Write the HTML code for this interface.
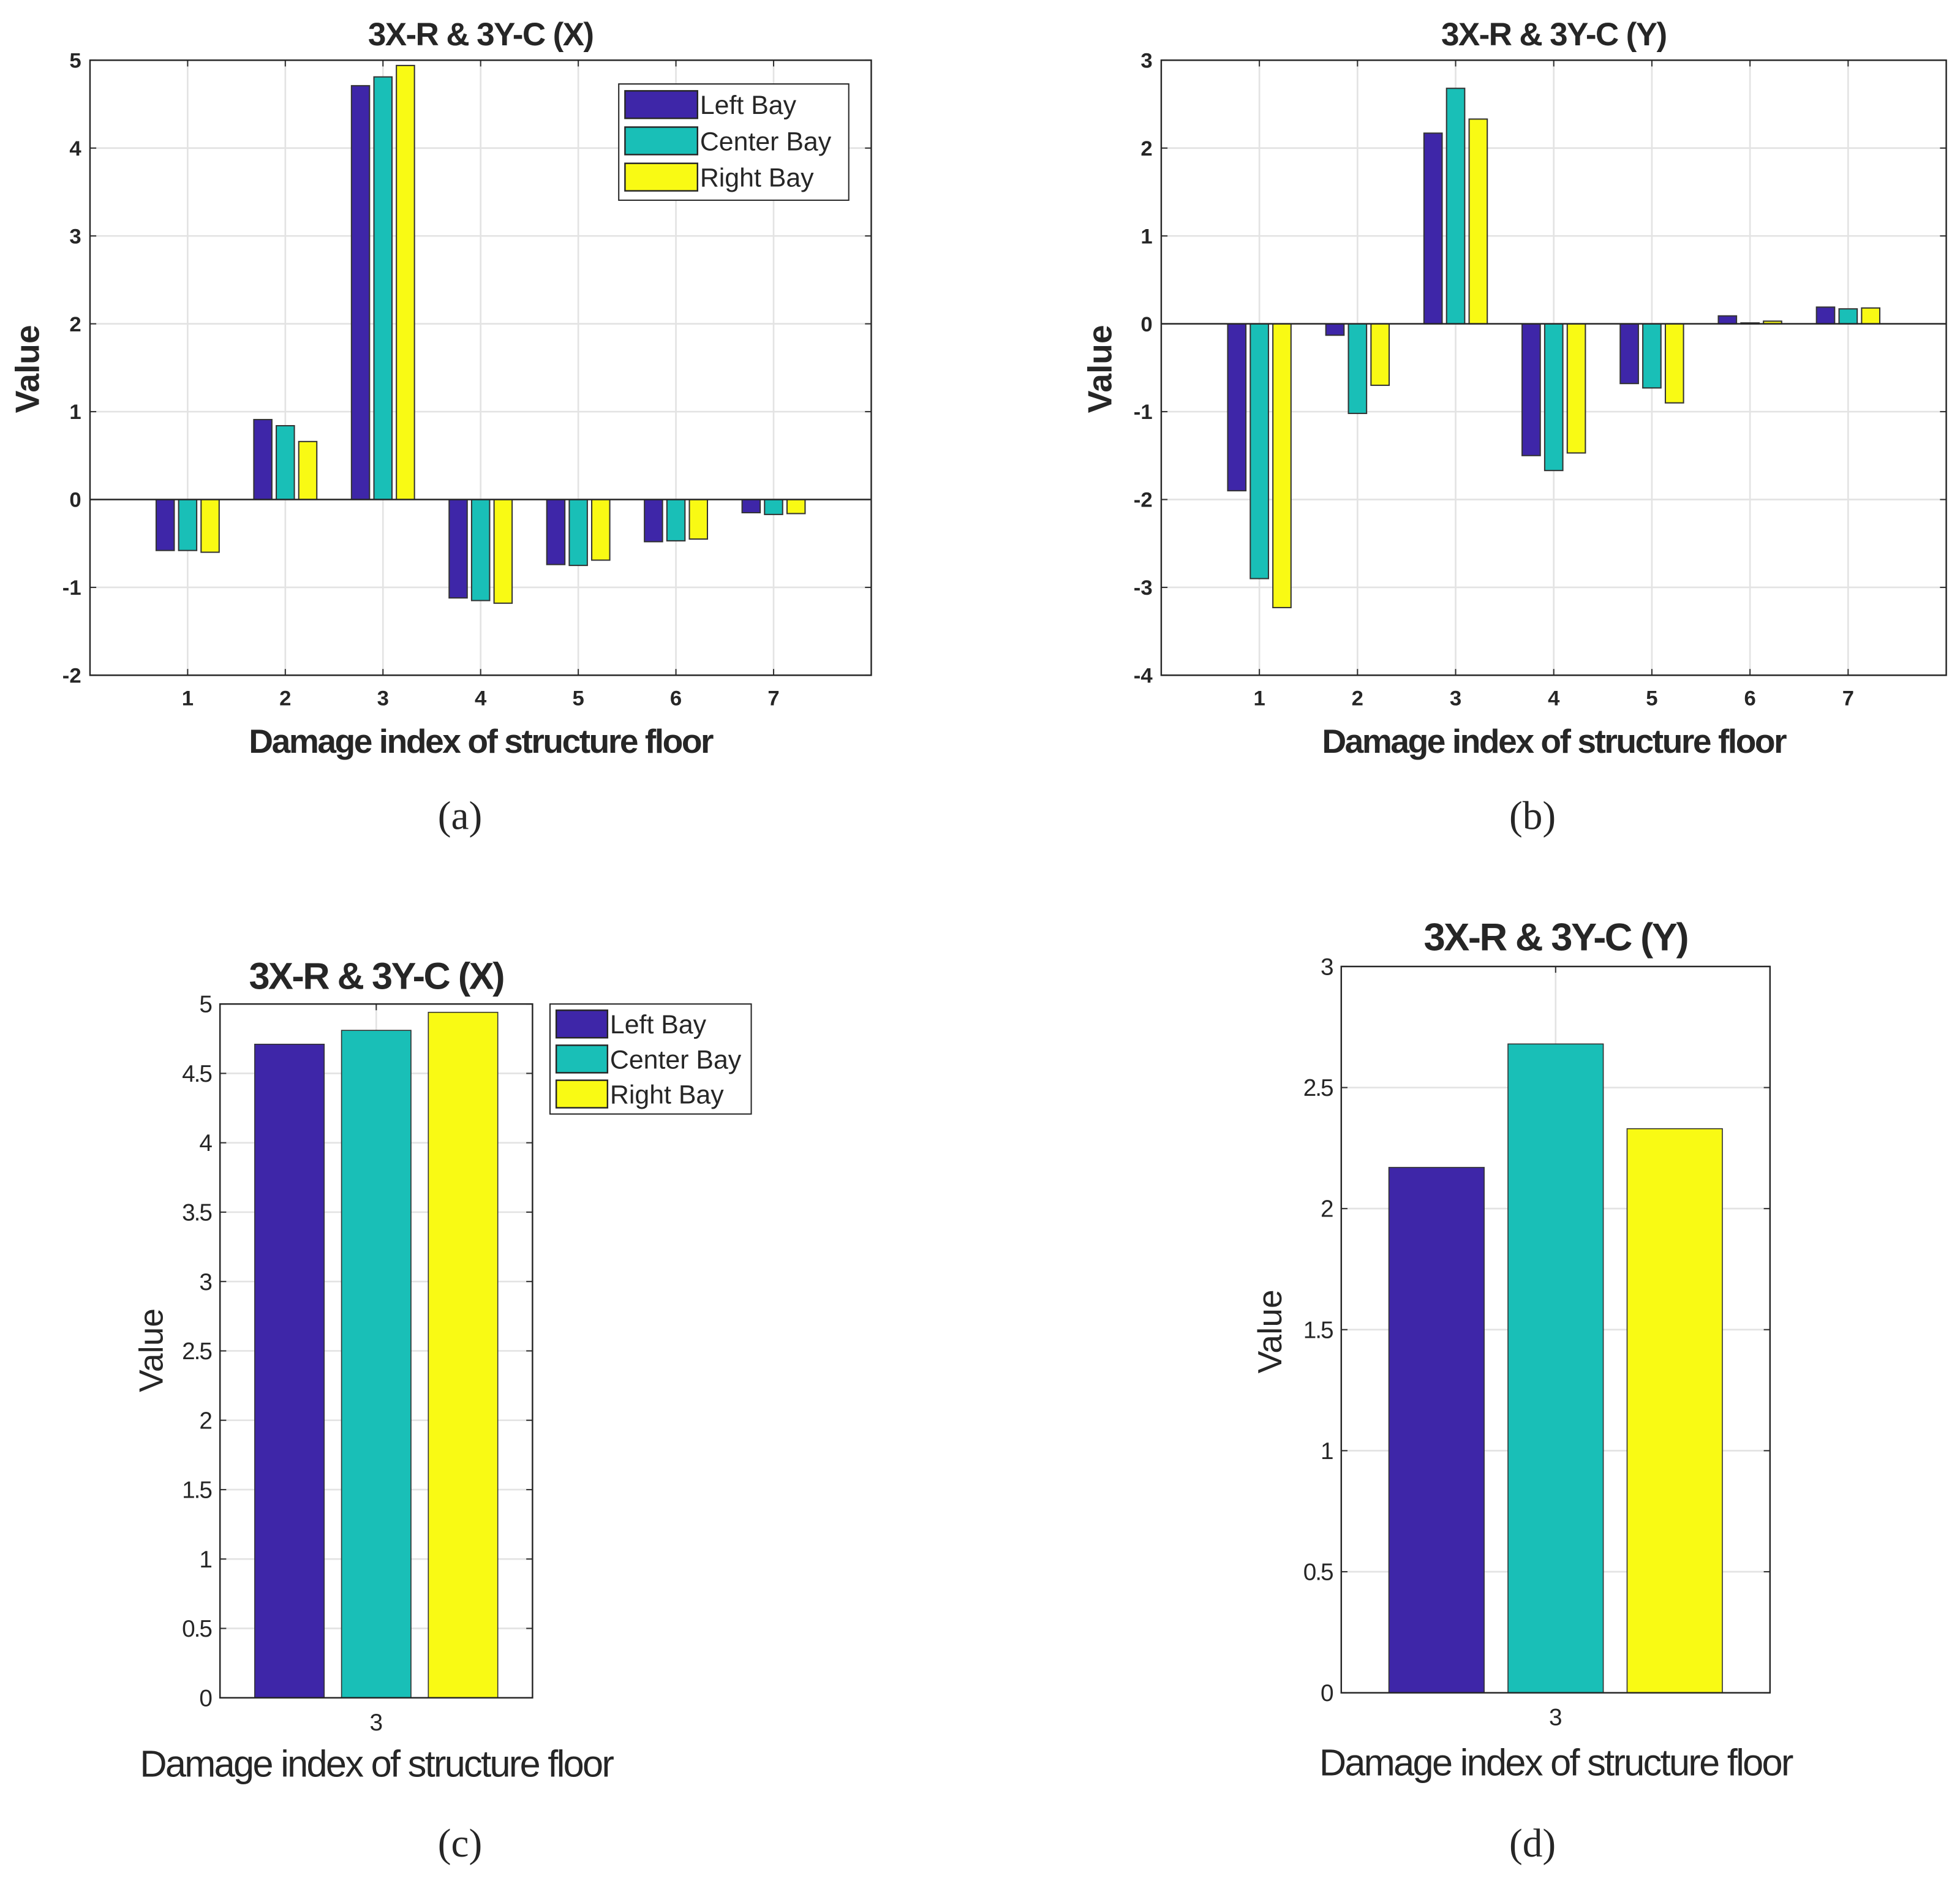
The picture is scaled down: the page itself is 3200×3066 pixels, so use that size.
<!DOCTYPE html>
<html><head><meta charset="utf-8"><style>
html,body{margin:0;padding:0;background:#fff}
svg{display:block}
text{font-family:"Liberation Sans",Arial,sans-serif;fill:#262626}
</style></head><body>
<svg id="fig" width="3200" height="3066" viewBox="0 0 1568 1502" xmlns="http://www.w3.org/2000/svg"></svg>
<script>
const seriesNames = ["Left Bay","Center Bay","Right Bay"];
const seriesColors = ["#3e26a8","#19bfb7","#f9fa14"];
const catsAB = [1,2,3,4,5,6,7];
const aLeft = [-0.58,0.91,4.71,-1.12,-0.74,-0.48,-0.15];
const aCenter = [-0.58,0.84,4.81,-1.15,-0.75,-0.47,-0.17];
const aRight = [-0.60,0.66,4.94,-1.18,-0.69,-0.45,-0.16];
const bLeft = [-1.90,-0.13,2.17,-1.50,-0.68,0.09,0.19];
const bCenter = [-2.90,-1.02,2.68,-1.67,-0.73,0.01,0.17];
const bRight = [-3.23,-0.70,2.33,-1.47,-0.90,0.03,0.18];
const ticksA = [-2,-1,0,1,2,3,4,5];
const ticksB = [-4,-3,-2,-1,0,1,2,3];
const catsCD = [3];
const cLeft = [4.71], cCenter = [4.81], cRight = [4.94];
const dLeft = [2.17], dCenter = [2.68], dRight = [2.33];
const ticksC = [0,0.5,1,1.5,2,2.5,3,3.5,4,4.5,5];
const ticksD = [0,0.5,1,1.5,2,2.5,3];

const NS="http://www.w3.org/2000/svg";
const svg=document.getElementById('fig');
function mk(tag,attrs,parent){const e=document.createElementNS(NS,tag);for(const k in attrs)e.setAttribute(k,attrs[k]);(parent||svg).appendChild(e);return e;}
function txt(s,attrs,parent){const e=mk('text',attrs,parent);e.textContent=s;return e;}

function chart(cfg){
  const g=mk('g',{});
  
  
  const {L,R,T,B,ymin,ymax,xmin,xmax}=cfg;
  const ys=v=>B-(v-ymin)/(ymax-ymin)*(B-T);
  const xs=v=>L+(v-xmin)/(xmax-xmin)*(R-L);
  mk('rect',{x:L,y:T,width:R-L,height:B-T,fill:'#fff'},g);
  cfg.yt.forEach(t=>{const y=ys(t);
    const gl=mk('line',{x1:L,x2:R,y1:y,y2:y,stroke:'#e3e3e3','stroke-width':1.3},g);
    
    
    mk('line',{x1:L,x2:L+5,y1:y,y2:y,stroke:'#333'},g);
    mk('line',{x1:R-5,x2:R,y1:y,y2:y,stroke:'#333'},g);
    const tl=txt(String(t),{x:L-7,y:y+cfg.tfs*0.35,'text-anchor':'end','font-size':cfg.tfs,'font-weight':cfg.tw,'letter-spacing':cfg.tls},g);
    
    
  });
  cfg.cats.forEach(c=>{const x=xs(c);
    mk('line',{x1:x,x2:x,y1:T,y2:B,stroke:'#e3e3e3','stroke-width':1.3},g);
    mk('line',{x1:x,x2:x,y1:B,y2:B-5,stroke:'#333'},g);
    mk('line',{x1:x,x2:x,y1:T,y2:T+5,stroke:'#333'},g);
    const tl=txt(String(c),{x:x,y:B+cfg.tfs+7,'text-anchor':'middle','font-size':cfg.tfs,'font-weight':cfg.tw},g);
    
    
  });
  const unit=(R-L)/(xmax-xmin);
  cfg.series.forEach((arr,si)=>{
    arr.forEach((v,i)=>{
      const cx=xs(cfg.cats[i])+(si-1)*cfg.off*unit;
      const w=cfg.bw*unit;
      const y0=ys(0), y1=ys(v);
      const r=mk('rect',{x:cx-w/2,y:Math.min(y0,y1),width:w,height:Math.max(Math.abs(y1-y0),0.8),fill:seriesColors[si],stroke:'#333','stroke-width':cfg.sw},g);
      
      
    });
  });
  if(ymin<0){mk('line',{x1:L,x2:R,y1:ys(0),y2:ys(0),stroke:'#262626','stroke-width':1.2},g);}
  mk('rect',{x:L,y:T,width:R-L,height:B-T,fill:'none',stroke:'#262626','stroke-width':1.2},g);
  const ti=txt(cfg.title,{x:(L+R)/2,y:cfg.titleY,'text-anchor':'middle','font-size':cfg.titleFs,'font-weight':'bold',fill:'#000','letter-spacing':cfg.titleLs},g);
  
  
  const xl=txt('Damage index of structure floor',{x:(L+R)/2,y:cfg.xlY,'text-anchor':'middle','font-size':cfg.xlFs,'font-weight':cfg.xlW,'letter-spacing':cfg.xlLs},g);
  
  
  const yl=txt('Value',{x:0,y:0,'text-anchor':'middle','font-size':cfg.ylFs,'font-weight':cfg.xlW,transform:`translate(${cfg.ylX},${cfg.ylY}) rotate(-90)`},g);
  
  
  const cap=txt(cfg.caption,{x:cfg.capX,y:cfg.capY,'text-anchor':'middle','font-size':32,style:'font-family:"Liberation Serif",serif',fill:'#000'});
  
  
  return g;
}
function legend(x,y,w,h,sw,swh,rowH,fs,name){
  const g=mk('g',{});
  
  
  mk('rect',{x:x,y:y,width:w,height:h,fill:'#fff',stroke:'#262626','stroke-width':1},g);
  seriesNames.forEach((n,i)=>{
    const cy=y+rowH*(i+0.5)+2;
    const s=mk('rect',{x:x+5,y:cy-swh/2,width:sw,height:swh,fill:seriesColors[i],stroke:'#262626','stroke-width':1.2},g);
    
    
    const t=txt(n,{x:x+sw+7,y:cy+fs*0.36,'font-size':fs},g);
    
    
  });
}
chart({name:'chart-a',L:72,R:697,T:48,B:540,ymin:-2,ymax:5,xmin:0,xmax:8,cats:catsAB,series:[aLeft,aCenter,aRight],yt:ticksA,
  tfs:17,tw:'bold',tls:0,off:0.23,bw:0.185,sw:1,title:'3X-R & 3Y-C (X)',titleY:36,titleFs:26,titleLs:-0.8,xlY:602,xlFs:27,xlW:'bold',xlLs:-1.2,ylX:31,ylY:295,ylFs:27,caption:'(a)',capX:368,capY:663});
legend(495,67,184,93,58,22,29,21,'legend-a');
chart({name:'chart-b',L:929,R:1557,T:48,B:540,ymin:-4,ymax:3,xmin:0,xmax:8,cats:catsAB,series:[bLeft,bCenter,bRight],yt:ticksB,
  tfs:17,tw:'bold',tls:0,off:0.23,bw:0.185,sw:1,title:'3X-R & 3Y-C (Y)',titleY:36,titleFs:26,titleLs:-0.8,xlY:602,xlFs:27,xlW:'bold',xlLs:-1.2,ylX:889,ylY:295,ylFs:27,caption:'(b)',capX:1226,capY:663});
chart({name:'chart-c',L:176,R:426,T:803,B:1358,ymin:0,ymax:5,xmin:2.55,xmax:3.45,cats:catsCD,series:[cLeft,cCenter,cRight],yt:ticksC,
  tfs:19,tw:'normal',tls:-1,off:0.25,bw:0.2,sw:0.8,title:'3X-R & 3Y-C (X)',titleY:791,titleFs:30,titleLs:-1.2,xlY:1421,xlFs:30,xlW:'normal',xlLs:-1.3,ylX:130,ylY:1080,ylFs:27,caption:'(c)',capX:368,capY:1485});
legend(440,803,161,88,41,22,28,21,'legend-c');
chart({name:'chart-d',L:1073,R:1416,T:773,B:1354,ymin:0,ymax:3,xmin:2.55,xmax:3.45,cats:catsCD,series:[dLeft,dCenter,dRight],yt:ticksD,
  tfs:19,tw:'normal',tls:-1,off:0.25,bw:0.2,sw:0.8,title:'3X-R & 3Y-C (Y)',titleY:760,titleFs:31,titleLs:-1.2,xlY:1420,xlFs:30,xlW:'normal',xlLs:-1.3,ylX:1025,ylY:1065,ylFs:27,caption:'(d)',capX:1226,capY:1485});
</script>
</body></html>
